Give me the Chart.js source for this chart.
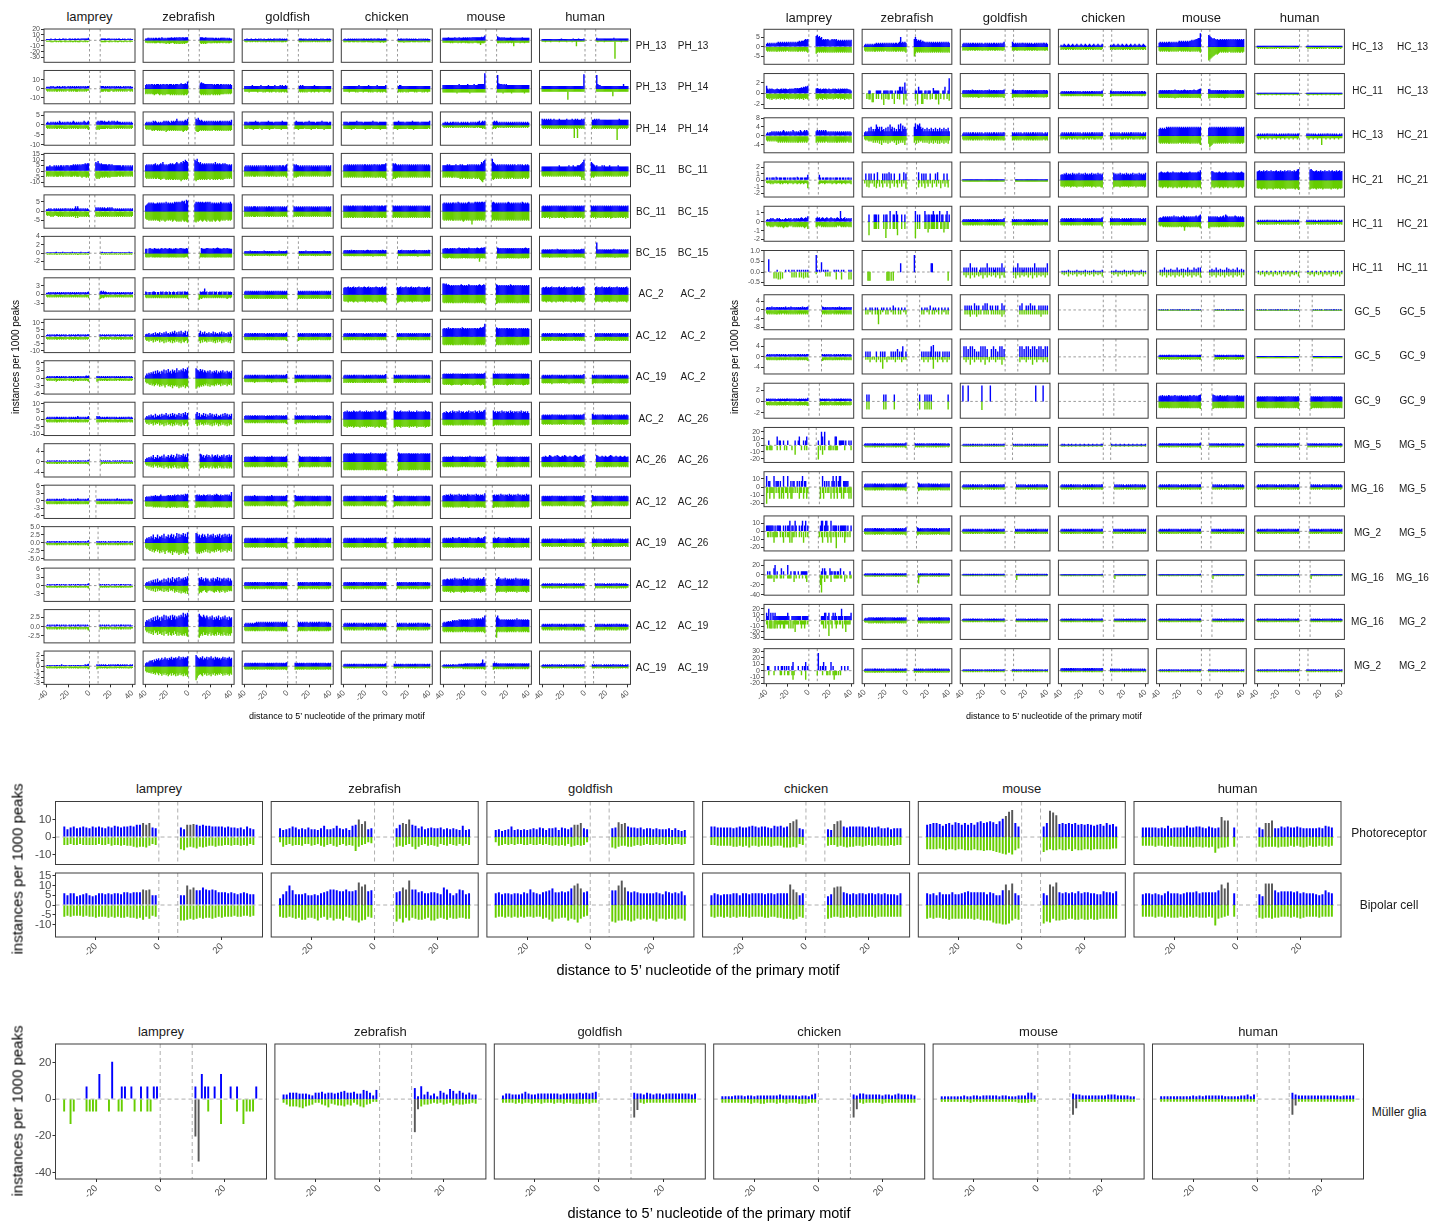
<!DOCTYPE html>
<html lang="en">
<head>
<meta charset="utf-8">
<title>Secondary motif instances around primary motifs</title>
<script src="https://cdn.jsdelivr.net/npm/chart.js@4.4.1/dist/chart.umd.min.js"></script>
<style>
  html, body { margin: 0; padding: 0; background: #ffffff; }
  body { position: relative; width: 1447px; height: 1223px; overflow: hidden;
         font-family: "Liberation Sans", Arial, Helvetica, sans-serif; }
  canvas { position: absolute; }
  .t { position: absolute; white-space: nowrap; color: #1a1a1a; line-height: 1;
       transform: translate(-50%, -50%); }
  .rot { transform: translate(-50%, -50%) rotate(-90deg); }
</style>
</head>
<body>
<script>
// ================= data =================
const species = ["lamprey", "zebrafish", "goldfish", "chicken", "mouse", "human"];

// ---- left grid: photoreceptor / bipolar / amacrine cluster pairs ----
const tlRowsA = ["PH_13","PH_13","PH_14","BC_11","BC_11","BC_15","AC_2","AC_12","AC_19","AC_2","AC_26","AC_12","AC_19","AC_12","AC_12","AC_19"];
const tlRowsB = ["PH_13","PH_14","PH_14","BC_11","BC_15","BC_15","AC_2","AC_2","AC_2","AC_26","AC_26","AC_26","AC_26","AC_12","AC_19","AC_19"];
const tlMotifEnd = [10,10,6,5,5,10,9,9,8,8,10,6,8,9,9,8];
const tlYRange = [[-38.8,20],[-16.7,20.4],[-10.3,6.6],[-14.2,16],[-9.1,8.75],[-3.95,4.05],[-5.8,5.8],[-11.4,12.4],
                  [-6.1,6.7],[-10.7,11.1],[-5.9,7.0],[-7,6.3],[-5.4,5.05],[-5.7,6.3],[-4.5,4.7],[-3.3,2.76]];
const tlYTicks = [["20","10","0","-10","-20","-30"],["10","0","-10"],["5","0","-5","-10"],["15","10","5","0","-5","-10"],
                  ["5","0","-5"],["4","2","0","-2"],["3","0","-3"],["10","5","0","-5","-10"],["6","3","0","-3","-6"],
                  ["10","5","0","-5","-10"],["4","0","-4"],["6","3","0","-3","-6"],["5.0","2.5","0.0","-2.5","-5.0"],
                  ["6","3","0","-3"],["2.5","0.0","-2.5"],["2","1","0","-1","-2","-3"]];
// bar heights per position, one base-36 digit per position (upstream | downstream), scaled by the row unit
const tlUnit = [1,1,0.5,1,0.5,0.1,0.25,0.5,0.25,0.5,0.25,0.25,0.25,0.25,0.25,0.1];
const tlPos = [
 ["2222322232 2232233232 2332323323 3233333334|3333323332 3232323322 3232232322",
  "3344343434 4344354343 4444544545 4554554555|5554454444 4443443434 4444343433",
  "2232223222 3223232232 2232322332 3233232323|3332323223 2322323222 3232223232",
  "2322323232 3232323233 2323233233 2333232333|3233232332 3232323223 2323232322",
  "4444454444 4544454445 4545454555 5555556568|7554545444 4454444444 4445444444",
  "2222222222 2222222232 2222222223 2222322223|4333333333 3333334333 3333333333"],
 ["2222323222 3232232322 3232323232 3232323233|3332323232 3232323232 2323232322",
  "4545455454 5554545545 5455545455 5456555658|6766555555 5545455545 5454545454",
  "3333333433 3333343333 3343333343 3334343343|3434333333 3333433333 3333333333",
  "3333333333 3333433333 3334333333 3433333334|3443333333 3333333333 3333333333",
  "4444444444 4444454444 4445444445 444555555h|f655545454 4444444444 4444444444",
  "3333333333 3333333333 3333333333 333333333g|f544333333 3333333333 3333353333"],
 ["2322323232 3243232323 3232343232 3232343234|3434443433 3433434334 3332323232 3232",
  "2323232434 3232323434 3432434346 4343434546|6575454343 4343434343 4344343434 3435",
  "3332333333 4333233333 3343333233 3333343333|3433333323 3334333332 3333343333 3233",
  "3333233333 3343333323 3333333433 3323333333|3333433333 2333333433 3333233333 3334",
  "2232322323 3232322323 2323223232 3233423434|3434323232 3232323232 3232323232 3232",
  "6565656565 5655556555 5556555565 5656555656|5565656555 5555555555 5555565555 5555"],
 ["4445444545 4545545455 5455565656 5656667677|8797676666 6566565555 5555455454 54545",
  "5656565667 5656768656 5667676678 7678798a98|a9b8786767 6767676768 6767667676 65656",
  "4545454545 4545454545 5454545454 5455455456|6565545454 5454545454 5454545454 54545",
  "5656565656 5656565656 6565656566 5656566667|7676565656 5656565656 5656565656 56565",
  "5555656555 5565556565 5556565656 565656879a|b876565656 5656565656 5655656565 56565",
  "4444444444 4444445444 4444454445 444555678a|8765454444 5454444544 4444454444 44444"],
 ["2232322323 2323232332 3232323535 3232323232|4343434343 3434343232 3232323232 32323",
  "6789898988 898989898a 8989898a9a 9a9abab8cb|8a9a9a9a99 a9a9a89898 9898a98989 898a8",
  "5454545455 5454545454 5455454545 4545454545|5454545454 5454545454 5454545454 54545",
  "6565656566 5656565656 6565656566 5656566566|6565656565 6565656565 6565656565 65656",
  "8989898989 9898a98989 8989a98989 a9a9a9aa9a|9a98989898 98989a9898 98989898a9 89898",
  "5656565656 5656565656 5656565656 5656565656|6565656565 6565656565 6565656565 65656"],
 ["1211212123 1212131212 2121312121 2131212123|2312121212 3121212121 2121213121",
  "aa0bcaa9cb aab9bcaacb aacbb9bacb aaccbbaacb|0cbaabccbb bacbbcdcbb abcbbcbbaa",
  "4545464545 5454545465 4545455454 5464545456|5454546454 5455454545 4546545454",
  "6767676867 7676767676 6787676767 7676768767|7678676767 6767786767 7676767687",
  "abcbcabcbc bcabcdcbcb cbcbdcbcbc bcdcbcdcde|dcbcbcbcbc bcbcbcbcbc bcbcbcdcbc",
  "8989898989 9898a98989 8989898989 9898989a9a|p989898989 898989a989 8989898989"],
 ["2232323232 3232323232 3232323232 3232323234|4535343232 3232323232 3232323232 3",
  "4303303443 0330434034 3043034303 4043404434|0434483403 4340434034 3404340434 3",
  "4545454545 4545454545 4545454545 4545454545|5454545454 5454545454 5454545454 5",
  "9a9ab9a9ab 9a9ab9a9ab a9ab9a9a9a ba9a9ab9ab|a9ab9a9ab9 a9ab9a9a9a ba9a9a9ab9 a",
  "ffefdedcdc dcdcdcdedc dcdcedcdcd cdcdedcded|edcdcdcdcd cdcedcdcdc dcdcdcdcdc d",
  "9a9ab9a9ab 9a9a9ab9a9 ab9a9a9ab9 a9ab9a9abb|ab9a9ab9a9 a9ab9a9a9a b9a9a9a9ab 9"],
 ["2323232323 3232323232 2323232323 3232323233|3232323232 3232323232 3232323232 3",
  "3435243526 3546253647 4536475846 3748365827|5836473546 3547364536 4736453647 4",
  "4545454545 5454545454 4545454545 5454545456|5454545454 5454545454 5454545454 5",
  "4545454545 5454545454 4545454545 5454545455|5454545454 5454545454 5454545454 5",
  "bcbcbdbcbc cbcbcbcbdc bcbcbcbcbc cbcbcdcdei|dcbcbcbcbc cbcbcbcbcb bcbcbcbcbc b",
  "4545454545 5454545454 4545454545 5454545455|5454545454 5454545454 5454545454 5"],
 ["2323232323 3232323232 2323232323 3232323434|3232323232 3232323232 3232323232 3232",
  "4758697a6b 7c8a6b9d7c 8e9b7dac8f 9cadbfaecg|fdcaebd9ca 8b9c7a8b9c 7a8b9c8a7b 9a8b",
  "4545454545 5454545454 4545454545 5454545456|5454545454 5454545454 5454545454 5454",
  "4545454545 5454545454 4545454545 5454545456|5454545454 5454545454 5454545454 5454",
  "6767676767 7676767676 6767676767 7676767678|7676767676 7676767676 7676767676 7676",
  "4545454545 5454545454 4545454545 5454545456|5454545454 5454545454 5454545454 5454"],
 ["2323232323 3232323232 2323232324 3232323234|4343232323 3232323232 2323232323 3232",
  "2435364527 3546374658 4637485736 5847386958|7948365847 3648573647 3546374857 3647",
  "4545454545 5454545454 4545454545 5454545455|5454545454 5454545454 4545454545 5454",
  "9a9b9a9a9b a9a9ab9a9a 9b9a9a9a9b a9ab9a9abb|ba9a9ab9a9 a9a9b9a9a9 9b9a9a9a9b a9a9",
  "898a989a8b 9a8a9b8a9a 89a9b8a9a8 b9a8b9a9bc|b9a8a9a8b9 a8a9a8b9a8 a9a8a9b8a9 a8a8",
  "5656565656 6565656565 5656565656 6565656567|7656565656 6565656565 5656565656 6565"],
 ["1212121212 2121212121 1212121212 2121212123|2121212121 1212121212 2121212121",
  "4657586a47 6a58796b58 7a69b7a58c 6b7a9c8b7d|cb8a69b7a8 6b79a8b697 a8b69a7b8a",
  "7878787879 8787878787 7878798787 8787878789|9878787878 8787878787 7878787878",
  "cdcdcdcdce dcdcdcdcdc cdcdcecdcd dcdcdcdcde|edcdcdcdcd dcdcdcdcdc cdcdcdcdcd",
  "7878787879 8787878787 7878798787 8787878789|9878787878 8787878787 7878787878",
  "7879878a98 7898a98789 8a98789878 9a987898ab|a987898798 789a987898 7898789878"],
 ["2323232323 3232324232 2323232324 3232323234|3232323232 3232323234 2323232323 3232",
  "6767687879 7878a87878 8989798a89 a98a9a8bab|9a8a898a98 9a8a898a9b a98a898a9a 8a8e",
  "7878787879 8787878787 7878798787 8787878789|9878787878 8787878787 7878787878 8787",
  "7878787878 8787878787 7878787878 8787878789|9878787878 8787878787 7878787878 8787",
  "898a9a8b9a 8a9a8b9a8a 9a8b9a8a9a 8b9a8a9a8c|9a8a9a8b9a 8a9a8b9a8a 9a8b9a8a9a 8b9a",
  "7878787878 8787878787 7878787878 8787878789|9878787878 8787878787 7878787878 8787"],
 ["1212121212 2121212121 1212121212 2121212123|2121212121 1212121212 2121212121 1212",
  "4657586a47 6a58796b58 7a69b7a58c 6b7a9c8b7d|cb8a69b7a8 6b79a8b697 a8b69a7b8a 7b8a",
  "5656565656 6565656565 5656565656 6565656567|6565656565 5656565656 6565656565 5656",
  "5656565656 6565656565 5656565656 6565656567|6565656565 5656565656 6565656565 5656",
  "5656565657 6565675656 5656576565 6567656578|6565675656 5656576565 6565656565 5656",
  "4545454545 5454545454 4545454545 5454545455|5454545454 4545454545 5454545454 4545"],
 ["1212121212 2121212121 1212121212 2121212123|2121212121 1212121212 2121212121 1",
  "3546375849 4a57684a59 6b4a7c5a8b 6c7a9b8cad|b9c8a6b9a7 5a8b6a9c7b 6a9b7a8b6a 7",
  "4545454545 5454545454 4545454545 5454545455|5454545454 4545454545 5454545454 4",
  "4545454545 5454545454 4545454545 5454545455|5454545454 4545454545 5454545454 4",
  "8989a98a9a 8b9a8a9a8c 9a8a9b8a9a 8a9b8a9ac9|9ac9a8a9b8 a9a8a9a8b9 a8a9a8a9a8 9",
  "2323232323 3232323232 2323232323 3232323233|3232323232 2323232323 3232323232 2"],
 ["1212121212 2121212121 1212121212 2121212121|2121212121 1212121212 2121212121 1",
  "5768597a6b 7c8a6b9d7c 8b9c7dac8b 9cadbfaecf|ecbadb9ca8 b9c7a8b9c7 a8b9c8a7b9 a",
  "3434343434 4545454545 4545454545 4545454545|5454545454 4545454545 5454545454 4",
  "3434343434 4343434343 3434343434 4343434344|4343434343 3434343434 4343434343 3",
  "4545565657 6767687878 7878787979 8989898a9c|ac98787878 7878787879 7878787878 7",
  "2323232323 3232323232 2323232323 3232323233|3232323232 2323232323 3232323232 2"],
 ["1212121212 2121312121 1212121212 2121213234|3232323232 2323232323 3232323232 2323",
  "5768a9b7c9 dbeacfbdgc ebfdhcfegd ficgdhegfi|khfdgeicfd hcgeidfche gdfcehdgcf ehdf",
  "5656565656 6565656565 5656565656 6565656567|6565656565 5656565656 6565656565 5656",
  "3434343434 4343434343 3434343434 4343434345|4343434343 3434343434 4343434343 3434",
  "2323232323 3232343434 4545454545 4545456c56|5656454545 4545454545 4545454545 4545",
  "2323232323 3232323232 2323232323 3232323233|3232323232 2323232323 3232323232 2323"]
];
const tlNeg = [
 ["2222333223 2323322332 3232332323 3322323232|3333322332 3223233223 2322322322",
  "4454545455 5445545556 5565545656 5665656554|5656565545 5545455454 4544545544",
  "2332232322 3232232323 3223232332 3232333232|3332323232 3232232323 2323223232",
  "3332333233 3233323333 3233333433 3333433433|3333343333 3323333233 3332332333",
  "4444444545 4444544544 4545554554 4455585554|5545454544 54454a4444 4544454444",
  "2223222232 2222223222 2223222232 22a2222222|2322222322 2222222w22 2223222222"],
 ["2323232323 3232323232 2323232333 2323232322|3332323332 2332323232 3232322323",
  "6565656676 6567667676 6667676767 6767677676|6767676767 6676767676 6665656565",
  "3333433333 3343333434 3334343334 3343433434|3434343433 3433433343 3334333343",
  "3333343333 3434333343 3334343433 3433434334|4343433434 3333343433 3343433433",
  "4444444444 4445444444 4444454444 4444444444|4444454444 4445444444 4444454444",
  "3333333333 3333333333 3333c33333 3333333333|3333333333 3333383333 3333333333"],
 ["3434343434 4343434444 3434343434 4343434345|5454444443 4344434343 4343434343 4343",
  "4545456565 5656565657 6565656565 6565676565|6776565656 5656565565 6565656565 6565",
  "4443444454 4444345444 4445444434 4444544444|4445444443 4444454444 3444444544 4444",
  "4444444544 4344444444 5444443444 4444544444|4445444444 4434444454 4444444444 4434",
  "2323232323 3232323232 3232323233 3232333434|4343232323 3232323232 3232323232 3232",
  "3434343434 3434343434 3434343434 d34d343434|4343434343 4343434343 434f434343 4343"],
 ["5454545545 5545455454 5455545455 5456555656|6767656565 5656555555 5455455454 54545",
  "6767676767 7677877678 7878788787 8789878787|8988787878 7877877878 7877878776 76767",
  "5454545455 5454545454 5455454545 5454545456|6565545454 5454545454 5454545455 45454",
  "6565656565 6565656566 5656565656 6565656667|7676656565 6565656565 6565656565 65656",
  "6565656566 5656667676 6767676766 7676789a87|7876767676 6767676766 7676767676 67676",
  "4545454545 4545454545 4545454545 4545455868|6565454545 4545454545 4545454545 45454"],
 ["4545656545 5656565656 5656565757 5656565656|5656565656 5656565656 5656565656 56565",
  "899a9a9a9a 9aab9a9aba 9a9a9ba9ab abab9ababc|bcaba9aba9 ab9abab9ab a9aba9a9a9 9a9a9",
  "6565656566 6565656565 6566565656 5656565656|6565656565 6565656565 6565656565 65656",
  "7676767677 6767676767 7676767677 6767677677|7676767676 7676767676 7676767676 76767",
  "9a9a9a9a9a a9a9a9a9ab a9a9a9aea9 a9a9a9a9a9|a9a9a9a9a9 a9a9a9a9a9 a9a9a9a9a9 a9a9a",
  "7677676867 7677677676 7867767677 6767767687|7676867677 6767767687 7677676767 76867"],
 ["2323232323 3232323233 2323232324 3232323233|3232323232 3232323232 3232323232",
  "9a9a98a9aa 9a9aa99a9a 9aa9a9a9aa 9a9a9aa98a|a9a9aa9a9a 9a9aaa9a9a a9a9a9a9aa",
  "5656565756 6565656565 5657565656 6565656575|6565656565 5656575656 6565656565",
  "6767676767 7676767677 6767676876 7676767677|7676767676 6767676787 6767676767",
  "abcbcbabcb cbcbcbcbcb bcbcbcbcbc cbcbkcbcbc|cbcbcbcbcb bcbcbcbcbc cbcbcbcbcb",
  "9a9a9a9b9a a9a9a9a9a9 9a9b9a9a9a a9a9a9a9ab|a9a9a9a9a9 9a9a9a9b9a a9a9a9a9a9"],
 ["3434343434 3434343434 3434343434 3434343435|6545434343 4343434343 4343434343 4",
  "4545454545 4545454545 4545454545 4545454546|7565454545 4545454545 4545456545 4",
  "5656565656 5656565656 5656565656 5656565656|6565656565 6565656565 6565656565 6",
  "9a9ab9a9ab a9ab9a9a9a b9a9a9ab9a ab9a9a9abc|cba9a9ab9a 9a9ab9a9a9 a9ab9a9a9a 9",
  "bcbcbcbcbc cbcbcbcbcb bcbcbcbcbc cbcbcbcbcd|dcbcbcbcbc bcbcbcbcbc cbcbcbcbcb c",
  "9a9ab9a9ab a9ab9a9a9a b9a9a9ab9a ab9a9a9aba|ba9a9ab9a9 a9ab9a9a9a b9a9a9a9ab 9"],
 ["3434343434 4343434343 3434343434 4343434343|4343434343 3434343434 4343434343 4",
  "4657465847 5648576958 4768596847 5869478659|6958476857 4758695847 5968475869 5",
  "4545454545 5454545454 4545454545 5454545456|6545454545 5454545454 4545454545 4",
  "5454545454 4545454545 5454545454 4545454545|5454545454 4545454545 5454545454 5",
  "bcbcbcbcbc cbcbcbcbcb bcbcbcbcbc cbcbcbcbcb|cbcbcbcbcb bcbcbcbcbc cbcbcbcbcb b",
  "6565656565 5656565656 6565656565 5656565656|6565656565 5656565656 6565656565 6"],
 ["3434343435 4343434343 3434353434 4343434345|5434343434 4343434343 3434343434 4343",
  "6879a8b9ca 8b9dac9bea 9cbdafbcad bfcebdafcd|gdcebdac9b 8c9dabac9b 8a9c8b9a8c 9a8b",
  "5656565657 6565656565 5656575656 6565656567|7656565656 6565656565 5656565656 6565",
  "7676767677 6767676767 7676767677 6767676767|7676767676 6767676767 7676767676 6767",
  "9a9a9a9aba a9a9a9aba9 9a9a9a9aba a9a9aba9ag|ba9a9a9a9a a9aba9a9a9 9a9a9a9aba a9a9",
  "7878787879 8787878787 7878798787 8787878789|9878787878 8787878787 7878787878 8787"],
 ["3434343434 4343434343 3434343434 4343434343|4343434343 3434343434 4343434343 3434",
  "4657465847 5648576958 4768596847 5869478659|6958476857 4758695847 5968475869 5867",
  "4545454545 5454545454 4545454545 5454545456|6545454545 5454545454 4545454545 5454",
  "9a9b9a9a9b a9a9ab9a9a 9b9a9a9a9b a9ab9a9abb|ba9a9ab9a9 a9a9b9a9a9 9b9a9a9a9b a9a9",
  "7878787878 8787878788 7878787878 8787878789|9878787878 8787878787 7878787878 8787",
  "6767676767 7676767676 6767676767 7676767678|7676767676 7676767676 6767676767 7676"],
 ["2323232323 3232323232 2323232323 3232323234|4323232323 3232323232 2323232323",
  "4657586947 6958796a58 7a69a7958a 6a79a8a79b|a98a6997a8 6a79a8a697 a8a69a7a8a",
  "7878787878 8787878787 7878787878 8787878789|9878787878 8787878787 7878787878",
  "cdcdcdcdcd dcdcdcdcdc cdcdcdcdcd dcdcdcdcde|edcdcdcdcd dcdcdcdcdc cdcdcdcdcd",
  "7878787878 8787878787 7878787878 8787878789|9878787878 8787878787 7878787878",
  "7878787878 8787878787 7878787878 8787878789|9878787878 8787878787 7878787878"],
 ["4545454545 5454545454 4545454545 5454545455|5454545454 5454545454 4545454545 5454",
  "8989898a9a 9a9a9a9a9b a9ab9a9a9b 9a9a9a9bab|ba9a9a9a9a 9a9ab9a9a9 a9a9a9a9ab 9a9a",
  "7878787878 8787878787 7878787878 8787878789|9878787878 8787878787 7878787878 8787",
  "7878787878 8787878787 7878787878 8787878789|9878787878 8787878787 7878787878 8787",
  "9a9a9a9a9a a9a9a9a9a9 9a9aba9a9a a9a9a9a9ab|ba9a9a9a9a a9a9a9a9a9 9a9a9a9a9a a9a9",
  "7878787878 8787878787 7878787878 8787878789|9878787878 8787878787 7878787878 8787"],
 ["2323232323 3232323232 2323232323 3232323234|3232323232 2323232323 3232323232 2323",
  "6879a8b9ca 8b9dac9bea 9cbdafbcad bfcebdafcd|bdcebdac9b 8c9dabac9b 8a9c8b9a8c 9a8b",
  "5656565656 6565656565 5656565656 6565656567|6565656565 5656565656 6565656565 5656",
  "5656565656 6565656565 5656565656 6565656567|6565656565 5656565656 6565656565 5656",
  "5656565656 6565656565 5656565656 6565656567|6565656565 5656565656 6565656565 5656",
  "4545454545 5454545454 4545454545 5454545455|5454545454 4545454545 5454545454 4545"],
 ["2323232323 3232323232 2323232323 3232323234|3232323232 2323232323 3232323232 2",
  "3546475849 4857684958 6947685a79 6a7b8a9b8c|b9a8769a87 6879a8968a 7968a79687 8",
  "4545454545 5454545454 4545454545 5454545455|5454545454 4545454545 5454545454 4",
  "4545454545 5454545454 4545454545 5454545455|5454545454 4545454545 5454545454 4",
  "8989898a89 a989898a89 a98989898a 89898a8989|a98989898a 898989898a 89898989a8 9",
  "3434343434 4343434343 3434343434 4343434344|4343434343 3434343434 4343434343 3"],
 ["2323232323 3232323232 2323232323 3232323234|3232323232 2323232323 3232323232 2",
  "4657586947 6958796a58 7a69a7958a 6a79a8a7ab|ca8a6997a8 6a79a8a697 a8a69a7a8a 7",
  "4545454545 5454545454 4545454545 5454545455|5454545454 4545454545 5454545454 4",
  "3434343434 4343434343 3434343434 4343434344|4343434343 3434343434 4343434343 3",
  "5656565656 6565656565 5656565656 6565656567|c656565656 6565656565 5656565656 6",
  "3434343434 4343434343 3434343434 4343434344|4343434343 3434343434 4343434343 3"],
 ["3434343434 4343434343 3434343434 4343434345|5434343434 4343434343 3434343434 4343",
  "9bacbdaecf bdgcehdfcg eifdhcgeid hfcgeidhfj|pkhfegicfd hcgeidfche gdfcehdgcf ehdf",
  "5656565656 6565656565 5656565656 6565656567|6565656565 5656565656 6565656565 5656",
  "3434343434 4343434343 3434343434 4343434344|4343434343 3434343434 4343434343 3434",
  "3434343434 4343434345 4545454545 5454545456|6545454545 5454545454 4545454545 5454",
  "3434343434 4343434343 3434343434 4343434344|4343434343 3434343434 4343434343 3434"]
];

// ---- right grid: horizontal / ganglion / Mueller cluster pairs ----
const trRowsA = ["HC_13","HC_11","HC_13","HC_21","HC_11","HC_11","GC_5","GC_5","GC_9","MG_5","MG_16","MG_2","MG_16","MG_16","MG_2"];
const trRowsB = ["HC_13","HC_13","HC_21","HC_21","HC_21","HC_11","GC_5","GC_9","GC_9","MG_5","MG_5","MG_5","MG_16","MG_2","MG_2"];
const trMotifEnd = [8,8,8,9,8,8,12,12,10,7,10,9,10,10,8];
const trYRange = [[-9.1,9.1],[-2.8,3.7],[-7.6,8.1],[-2.6,2.8],[-2.2,1.76],[-0.64,1.02],[-9.1,7],[-6.6,6.9],
                  [-3.0,3.25],[-25.7,26.8],[-23.9,18.6],[-24.5,19.25],[-41,30],[-33.3,27.7],[-20.2,34.2]];
const trYTicks = [["5","0","-5"],["2","0","-2"],["8","4","0","-4"],["2","1","0","-1","-2"],["1","0","-1","-2"],
                  ["1.0","0.5","0.0","-0.5"],["4","0","-4","-8"],["4","0","-4"],["2","0","-2"],
                  ["20","10","0","-10","-20"],["10","0","-10","-20"],["10","0","-10","-20"],["20","0","-20","-40"],
                  ["20","10","0","-10","-20","-30"],["30","20","10","0","-10","-20"]];
const trUnit = [0.5,0.1,0.5,0.1,0.1,0.05,0.25,0.25,0.1,1,1,1,1,1,1];
const trPos = [
 ["3434343434 4545454545 4545454545 5656667878|bcab9a7878 7876787878 6767676767 6767",
  "2323232323 3434343434 3434343434 4345a45454|8a86767565 5454545454 5454545454 5454",
  "3434343434 4343434343 3434343434 4343434345|5434343434 4343434343 3434343434 4343",
  "2123212321 2321232123 2123212321 2321232123|2123212321 2321232123 2123212321 2321",
  "4545454545 5454545456 5656565656 676778899e|cba9898787 7878787878 7878787878 7878",
  "1111111111 1111111111 1111111111 1111111111|1111111111 1111111111 1111111111 1111"],
 ["e979898778 9878979898 7898989a9a 9aabacbdce|9a98978989 8798789898 7979898989 8775",
  "0000550000 0555550055 5550555005 055cc5c0k5|0550c55500 55055500a5 555500055c 005s",
  "5656565657 6565656565 5656575656 6565656567|7656565656 6565656565 5656565656 6565",
  "3434343434 4343434343 3434343434 4343434345|5434343434 4343434343 3434343434 4343",
  "5656565656 6565676565 5656765656 6567656789|8765656565 6565656565 5656565656 6565",
  "1111111111 1111111111 1111111111 1111111111|1111111111 1111111111 1111111111 1111"],
 ["2323343434 3434345434 3434354343 4354345454|4545454545 4343434343 4343434343 4343",
  "3434748464 6a86848564 7484a68474 64a6b49686|8b6a9b8674 6474647464 7464746474 6474",
  "2323232323 3232323232 2323232323 3232323233|3232323232 2323232323 3232323232 2323",
  "2323232323 3232323232 2323232323 3232323233|3232323232 2323232323 3232323232 2323",
  "6767676878 7878787878 7878787878 7878787878|7878787878 7878787878 7878787878 7878",
  "1212121212 2121212121 1212121212 2121212122|2121212121 1212121212 2121212121 1212"],
 ["4404044405 4044404440 4044044405 4044404448|8404404440 4404044404 4044040440 4",
  "0a00a0a00a 00c0000a0a 0a0c0a00a0 000a000c0a|0c00a0a0a0 00a0000a0c 00000a00a0 0",
  "1111111111 1111111111 1111111111 1111111111|1111111111 1111111111 1111111111 1",
  "898a9b8a9a 8b9a8a9b8a 9a8b9a8a9b 8a9a8b9a8a|b9a8a9b8a9 a8b9a8a9b8 a9a8b9a8a9 b",
  "bcdcbcbcdc bcbdcbcbcb cdcbcbcbcd cbcbcbcdcf|edcbcbcdcb cbcdcbcbcb dcbcbcbcdc b",
  "defdedfdef dedfdedefd edfdedfdef dfdedfdegh|ghfedefded fdedfdedfd efdedfdefd e"],
 ["2323434323 4343232343 3434234343 4345434546|4545345434 5434543434 543c434534 3434",
  "0000800008 8808000080 8800c00880 c800080080|0c08080000 c8088088c8 0880c08800 8c08",
  "2323232323 3232323232 2323232323 3232323234|3232323232 2323232323 3232323232 2323",
  "3434343434 4343434343 3434343434 4343434345|4343434343 3434343434 4343434343 3434",
  "4545656565 6565756565 5657656565 6565675678|6565656565 5656758765 6565676565 6565",
  "1212121212 2121212121 1212121212 2121212122|2121212121 1212121212 2121212121 1212"],
 ["00c0000000 2000000020 0200202002 0202020202|g202090202 0200000202 0200202000 0202",
  "0000000000 0000000000 0000000000 0000800000|g000000000 0000008800 0000000000 0000",
  "0404040804 0404002404 0408040404 2404040804|0404080404 2404040404 0804040404 0408",
  "0101010201 0101020101 0102010101 0201010102|0101020101 0102010101 0201010102 0101",
  "0202040202 0302020402 0303020402 0204030404|0203020402 0302020403 0203020402 0302",
  "0100010001 0001000100 0100010001 0001000100|0100010001 0001000100 0100010001 0001"],
 ["4545464545 5454545464 4546545454 5454645456|6545454545 5454546454 45454545",
  "0400040400 4040004040 0400400804 0040040040|0400404008 0040400400 40040040",
  "0080808080 0c08080008 0c0c008080 0808000c08|080c000808 0c08080008 08080808",
  "",
  "1010101010 0101010101 1010101010 0101010101|1010101010 0101010101 10101010",
  "1010101010 0101010101 1010101010 0101010101|1010101010 0101010101 10101010"],
 ["3434343434 4343434343 3434343434 4343434344|4343434343 3434343434 43434343",
  "0808080000 0800080808 0000080808 0c0808g008|0808080808 g0i0808080 08080808",
  "0g0g0c0g0g 0c08080g0g 0g0c000c0g 0c080g0g0c|0g0g0c0g0g 0c0g0g0c0g 0g0c0g0g",
  "",
  "2323232323 3232323232 2323232323 3232323233|3232323232 2323232323 32323232",
  "1111111111 1111111111 1111111111 1111111111|1111111111 1111111111 11111111"],
 ["5454545454 4545454545 5454545454 4545454546|5454545454 4545454545 5454545454",
  "00c0c00000 00000000c0 c0000000c0 0000000000|0c0000c0c0 c0c0000000 00000000c0",
  "s0000s0000 00000000s0 000000s000 0000000000|0000000000 00000000s0 00000s0000",
  "",
  "9a9b9a9a9b a9a9ab9a9a 9b9a9a9a9b a9ab9a9abc|cba9a9ab9a 9a9ab9a9a9 a9ab9a9a9a",
  "8989898989 9898989898 8989898989 9898989899|9898989898 8989898989 9898989898"],
 ["0070000000 d077007000 7000000700 7d000707d0|0700kd0k00 0700000dd0 0777770700 707",
  "2323232323 3232323232 2323232323 3232323234|3232323232 2323232323 3232323232 232",
  "1212121212 2121212121 1212121212 2121212122|2121212121 1212121212 2121212121 212",
  "1212111211 2111211121 1121112111 2111211122|2111211121 1121112111 2111211121 112",
  "2323232323 3232323232 2323232323 3232323234|3232323232 2323232323 3232323232 232",
  "2323232323 3232323232 2323232323 3232323233|3232323232 2323232323 3232323232 232"],
 ["d077000d07 770700d000 d007077007 0707d07700|00d0707070 07d70d07dd 0077777000",
  "3434343434 4343434343 3434343434 4343434345|5434343434 4343434343 3434343434",
  "2323232323 3232323232 2323232323 3232323233|3232323232 2323232323 3232323232",
  "2323232323 3232323232 2323232323 3232323233|3232323232 2323232323 3232323232",
  "2323232323 3232323232 2323232323 3232323233|3232323232 2323232323 3232323232",
  "2323232323 3232323232 2323232323 3232323233|3232323232 2323232323 3232323232"],
 ["7777777070 7777007070 77d0770d70 0707d07d07|07dd07dd70 0d07777070 7777770700 7",
  "3434343434 4343434343 3434343434 4343434345|5434343434 4343434343 3434343434 4",
  "2323232323 3232323232 2323232323 3232323233|3232323232 2323232323 3232323232 3",
  "2323232323 3232323232 2323232323 3232323233|3232323232 2323232323 3232323232 3",
  "2323232323 3232323232 2323232323 3232323233|3232323232 2323232323 3232323232 3",
  "2323232323 3232323232 2323232323 3232323233|3232323232 2323232323 3232323232 3"],
 ["0707000dk0 7000d07000 k007007700 7007777770|07d0d7000d 770770770d 0070000070",
  "2323232323 3232323232 2323232323 3232323233|3232323232 2323232323 3232323232",
  "1212121212 2121212121 1212121212 2121212122|2121212121 1212121212 2121212121",
  "1111111111 1111111111 1111111111 1111111112|1111111111 1111111111 1111111111",
  "1111111111 1111111111 1111111111 1111111112|1111111111 1111111111 1111111111",
  "1111111111 1111111111 1111111111 1111111112|1111111111 1111111111 1111111111"],
 ["d7k0d0d7d7 7777777777 d700777777 7770777777|0777dd07d0 07d7d70777 k70777777d",
  "3434545454 4545454545 5454545454 4545454545|5454545454 4545454545 5454545454",
  "2323232323 3232323232 2323232323 3232323233|3232323232 2323232323 3232323232",
  "2323232323 3232323232 2323232323 3232323233|3232323232 2323232323 3232323232",
  "2323232323 3232323232 2323232323 3232323233|3232323232 2323232323 3232323232",
  "2323232323 3232323232 2323232323 3232323233|3232323232 2323232323 3232323232"],
 ["0770000070 0700770707 07007d0000 7000707d07|00r0707d07 0000d07000 0000700700 7000",
  "2323232323 3232323232 2323232323 3232323233|3232323232 2323232323 3232323232 3232",
  "1212121212 2121212121 1212121212 2121212122|2121212121 1212121212 2121212121 1212",
  "3434343434 4343434343 3434343434 4343434344|3232323232 2323232323 3232323232 3232",
  "1212121212 2121212121 1212121212 2121212122|2121212121 1212121212 2121212121 1212",
  "1212121212 2121212121 1212121212 2121212122|2121212121 1212121212 2121212121 1212"]
];
const trNeg = [
 ["4545454545 5454545454 4545454545 5454545456|7656565656 5656565656 5656565656 5656",
  "4545454545 5454545454 4545454545 5454545456|a756565656 5656565656 5656565656 5656",
  "4343443434 3443434344 3434434343 4434343443|4343443434 3443434344 3434434343 4434",
  "3232332323 2332323233 2323323232 3323232332|3232332323 2332323233 2323323232 3323",
  "4545454545 5454545454 4545454545 5454545456|edcba98787 6565656565 5656565656 6565",
  "1212121212 2121212121 1212121212 2121212121|1212121212 2121212121 1212121212 2121"],
 ["8a9b8c9a8b 9a8b9a9c8a 9b8a9a8b9a 8b9a9c8a9b|a9b8a9c8a9 b8a9a8b9a8 9a8b9a9c8a 9b8a",
  "00a0bb0gg0 0a0a00b0l0 a0bb00a0j0 0a0b000k0b|0a0k000jj0 a0b00b0a00 bb0k0a00b0 0a0d",
  "6767676767 7676787676 6767676767 7676767678|8767676767 7676767676 6767676767 7676",
  "4545454545 5454545454 4545454545 5454545456|6545454545 5454545454 4545454545 5454",
  "7878787878 8787898787 7878787878 8787878789|9878787878 8787898787 7878787878 8787",
  "2323222322 3222322232 2232223222 3222322232|2232223222 3222322232 2232223222 3222"],
 ["4545454545 5656565656 5656565656 6565656565|6565656565 5656565656 6565656565 5656",
  "3434545464 6464748464 6474645464 8474646484|6474645464 6464746474 6474746474 6474",
  "3434343434 4343434343 3434343434 4343434344|4343434343 3434343434 4343434343 3434",
  "3232333232 3323233232 3332323323 2333232332|3323233232 3332323323 2333232332 3323",
  "6767676767 7676767676 6767676767 7676767678|7a98767676 7676767676 6767676767 7676",
  "2323222322 3222322232 2232223222 3222322232|2232223222 3222822232 2232223222 3222"],
 ["4545646545 5456465454 6545465456 546546545c|6545465454 5465456545 4654564545 6",
  "50a0b5050a 0c50a05b05 0a05c050a0 5b050a050d|0b50a05c05 a050b050a0 50c050a05b 0",
  "2222222222 2222222222 2222222222 2222222222|2222222222 2222222222 2222222222 2",
  "9a9b9a9a9b a9a9ab9a9a 9b9a9a9a9b a9ab9a9abb|ba9a9ab9a9 a9a9b9a9a9 9b9a9a9a9b a",
  "abacbabacb abacbabcab acbabacbab acbabcabac|bacbabacba bcabacbaba cbabacbabc a",
  "cdcdedcdce dcdcdecdcd cdecdcdecd cdcdcdecdf|edcdcdecdc dcedcdcdcd ecdcdcedcd c"],
 ["4545656545 5656567656 6545465656 5656567658|6545465656 5656565656 4545656565 5656",
  "0000f00008 8808000080 i800800880 8f00080080|0i08080000 880c808888 08800880c8 0880",
  "3434343434 4343434343 3434343434 4343434345|4343434343 3434343434 4343434343 3434",
  "3434343434 4343434343 3434343434 4343434345|4343434343 3434343434 4343434343 3434",
  "4545656565 6565656565 5656a65656 6565656567|7656565656 6565656565 5656565656 6565",
  "2323232323 3232323232 2323232323 3232323233|3232323232 2323232323 3232323232 2323"],
 ["0000000606 0707060000 0000505050 0505060505|2000000004 0404000007 0000700000 0707",
  "0008880000 0000000000 0888080800 0000000000|0000000000 0000000000 0000000000 0080",
  "0305030603 0503040306 0305030403 0503060305|0306030503 0403050306 0305030403 0503",
  "0203020402 0302040203 0204020302 0402030204|0203020402 0302040203 0204020302 0402",
  "0304030503 0403050304 0305030403 0503040305|0304030503 0403050304 0305030403 0503",
  "0203020402 0302040203 0204020302 0402030204|0203020402 0302040203 0204020302 0402"],
 ["6868686878 8686866868 6868686868 6868686868|8686868686 6868686868 68686868",
  "0808040800 808q080400 8080040808 0080800408|0808004080 0808040800 80408080",
  "0080808c08 080c080800 8080800808 0808080c08|0808080808 0808080808 0c080808",
  "",
  "1111111111 1111111111 1111111111 1111111111|1111111111 1111111111 11111111",
  "1111111111 1111111111 1111111111 1111111111|1111111111 1111111111 11111111"],
 ["4545454545 5454545454 4545454545 5454545456|6545454545 5454545454 45454545",
  "0404080404 0804080i04 0804040408 0404080404|0408040804 04i0408040 48040804",
  "0408040c04 0804040804 0c04080404 0804040c04|0804040804 040c040804 04080408",
  "",
  "3434343434 4343434343 3434343434 4343434344|4343434343 3434343434 43434343",
  "2222222222 2222222222 2222222222 2222222222|2222222222 2222222222 22222222"],
 ["6767676767 7676767676 6767676767 7676767678|7676767676 6767676767 7676767676",
  "00e0e00000 00000000e0 e0000000e0 0000000000|0e0000e0e0 e0e0000000 00000000e0",
  "0000000000 00000000f0 0000000000 0000000000|0000000000 0000000000 0000000000",
  "",
  "bcbcbcbcbc cbcbcbcbcb bcbcbcbcbc cbcbcbcbcd|dcbcbcbcbc cbcbcbcbcb bcbcbcbcbc",
  "bcbcbcbcbc cbcbcbcbcb bcbcbcbcbc cbcbcbcbcd|dcbcbcbcbc cbcbcbcbcb bcbcbcbcbc"],
 ["7707770000 7007000707 0000700e00 0007007070|0l070e0700 0777070777 0000007000 007",
  "2323232323 3232323232 2323232323 3232323234|3232323232 2323232323 3232323232 232",
  "1212121212 2121212121 1212121212 2121212122|2121212121 1212121212 2121212121 212",
  "1212111211 2111211121 1121112111 2111211122|2111211121 1121112111 2111211121 112",
  "2323232323 3232323232 2323232323 3232323234|3232323232 2323232323 3232323232 232",
  "2323232323 3232323232 2323232323 3232323233|3232323232 2323232323 3232323232 232"],
 ["k70e777e07 07e0e7e077 e07ee70707 0e770e70e7|e07e070770 e07e07e077 e0e7707e7e",
  "3434343434 4343434343 3434343434 4343434345|5434343434 4343434343 3434343434",
  "2323232323 3232323232 2323232323 3232323233|3232323232 2323232323 3232323232",
  "2323232323 3232323232 2323232323 3232323233|3232323232 2323232323 3232323232",
  "2323232323 3232323232 2323232323 3232323233|3232323232 2323232323 3232323232",
  "2323232323 3232323232 2323232323 3232323233|3232323232 2323232323 3232323232"],
 ["0770707e77 700707e070 77e0e77070 07070e0707|707e0707e0 7e0707l070 7070e70707 0",
  "3434343434 4343434343 3434343434 4343434345|5434343434 4343434343 3434343434 4",
  "2323232323 3232323232 2323232323 3232323233|3232323232 2323232323 3232323232 3",
  "2323232323 3232323232 2323232323 3232323233|3232323232 2323232323 3232323232 3",
  "2323232323 3232323232 2323232323 3232323233|3232323232 2323232323 3232323232 3",
  "2323232323 3232323232 2323232323 3232323233|3232323232 2323232323 3232323232 3"],
 ["0777770e07 7007707000 777700e070 07007007e0|kz70e07700 e007777707 700e070077",
  "2323232323 3232323232 2323232323 3232323233|h432323232 2323232323 3232323232",
  "1212121212 2121212121 1212121212 2121212122|a212121212 1212121212 2121212121",
  "1212121212 2121212121 1212121212 2121212122|8212121212 1212121212 2121212121",
  "1212121212 2121212121 1212121212 2121212122|8212121212 1212121212 2121212121",
  "1212121212 2121212121 1212121212 2121212122|8212121212 1212121212 2121212121"],
 ["7e0eee0ee7 e77e77ee77 7e0e0e7k77 707e77e707|077e0e07r0 7e007e7077 0e07k77770",
  "3434545454 4545454545 5454545454 4545454545|5454545454 4545454545 5454545454",
  "2323232323 3232323232 2323232323 3232323233|3232323232 2323232323 3232323232",
  "2323232323 3232323232 2323232323 3232323233|3232323232 2323232323 3232323232",
  "2323232323 3232323232 2323232323 3232323233|3232323232 2323232323 3232323232",
  "2323232323 3232323232 2323232323 3232323233|3232323232 2323232323 3232323232"],
 ["0070000700 0007700700 77007e7000 0007000e00|0700007000 7707007e77 0707000000 0000",
  "2323232323 3232323232 2323232323 3232323233|3232323232 2323232323 3232323232 3232",
  "1212121212 2121212121 1212121212 2121212122|2121212121 1212121212 2121212121 1212",
  "1212121212 2121212121 1212121212 2121212122|2121212121 1212121212 2121212121 1212",
  "1212121212 2121212121 1212121212 2121212122|2121212121 1212121212 2121212121 1212",
  "1212121212 2121212121 1212121212 2121212122|2121212121 1212121212 2121212121 1212"]
];

// ---- pooled cell classes (instances per 1000 peaks) ----
const midPositions = [-30,-29,-28,-27,-26,-25,-24,-23,-22,-21,-20,-19,-18,-17,-16,-15,-14,-13,-12,-11,
                      -10,-9,-8,-7,-6,-5,-4,-3,-2,-1,7,8,9,10,11,12,13,14,15,16,17,18,19,20,21,22,23,24,25,26,27,28,29,30];
const midRows = ["Photoreceptor", "Bipolar cell"];
const midOverlapPositions = [-5,-4,-3,9,10,11];
const photoreceptorPos = [
 [6,4.5,5.5,6,5,5.5,6,5.5,5,6, 5.5,6,5.5,5,6,5.5,6.5,6,5.5,6, 6,6.5,6,7,7,8,7,8,5.5,5, 5.5,4.5,7,7,7.5,7,6.5,7,6.5,6.5, 6,6,6,6,5.5,6,5.5,5.5,5,5.5, 4.5,6,5,4.5],
 [5,4,4.5,5,6,5.5,4.5,5,4.5,5.5, 4.5,4.5,4,5,6.5,4.5,4.5,5,6.5,5, 4.5,5,4,6.5,7,10,7.5,9,4.5,5, 5,7,8,7.5,10,7,6.5,5,6,4.5, 5,5.5,5,5,5.5,4.5,5,4.5,5,4.5, 4,6.5,4,4.5],
 [4,4.5,3.5,4,4.5,6,4,4.5,4,4.5, 4,4.5,5,4.5,5.5,5,4,5,5,5.5, 4,5.5,5,4.5,5.5,7,7,8,5,4.5, 5,5.5,8.5,7.5,8,6,5.5,5.5,5,5.5, 4.5,5,5,4.5,5,4.5,4.5,4.5,5,4, 5,4,3.5,4],
 [6,6,5.5,5.5,5.5,5.5,5.5,5,5.5,6, 5.5,5.5,6,6.5,6,5.5,6,6,5.5,5, 6.5,6,6.5,5.5,6,8,9,10,5,4.5, 4.5,4,7.5,9,9.5,6,5.5,6,6,6, 6,6,5.5,6,5.5,5.5,6,5,5,5.5, 4.5,5,5,5],
 [7,7.5,8,8,7.5,6.5,7.5,8,7,8.5, 8,7,8,7,8,7,8.5,9,8,8.5, 9,8.5,7.5,9,10.5,12,14.5,15.5,8,6, 6,8,15,14,12.5,7.5,8,7.5,8,7.5, 8,7,7.5,7,7.5,7,6.5,7,7.5,6.5, 8,7,7.5,6],
 [5.5,5.5,5.5,5.5,5.5,5,5.5,5,6.5,5, 5.5,5.5,5.5,5.5,6.5,5.5,5.5,6,6,5.5, 5,6,5.5,5,5.5,11.5,9.5,9.5,0,5.5, 5.5,4.5,8,8,9.5,5,5,6,5.5,6, 5.5,5.5,6,5.5,5,5,5,5,5,5.5, 5,6.5,6,5.5]
];
const photoreceptorNeg = [
 [4.5,4.5,4,4.5,4.5,4,4.5,4.5,4.5,4.5, 4.5,4,4.5,4.5,4,5,4.5,4.5,5,4.5, 5,5,5.5,6,5.5,5.5,6,5,4,4.5, 7,7.5,6,5.5,6,6.5,5.5,6,5.5,5, 5,5.5,5,5,4.5,4.5,5,4.5,4.5,5, 4.5,5,4,4.5],
 [3,5.5,4.5,4,5,4.5,4.5,5,4,4, 5,4.5,4,5,5.5,4.5,4,5,5.5,4.5, 4,5,4.5,5,8,5.5,4.5,4,3,3.5, 5.5,5,5.5,4.5,4,5.5,7,5.5,4.5,4, 5,4.5,5,5.5,4,4.5,5,4,4.5,5, 4,5,4,4.5],
 [3,5,4.5,4,4.5,4,4.5,4,4,4.5, 4.5,4,4.5,4.5,4,4.5,4,4.5,5,4.5, 5,4.5,5,4,5.5,5,4.5,5,4.5,3, 6,6.5,5.5,5,5,5.5,5.5,5,4.5,5, 4.5,4,4.5,4.5,4,4.5,4,4.5,4,4.5, 4,4,4.5,4],
 [4.5,4.5,5,5,5,5,5,5.5,5.5,5, 5.5,5,6,5,5,5.5,5,5,5,5.5, 5,5,5,6,6,6,5.5,6,4,4.5, 5,4.5,4.5,5.5,5,5.5,6,5.5,5.5,5, 5,5.5,5,4.5,5,5,4.5,5,5,5, 4.5,5,4.5,4.5],
 [7,7,7,7,6.5,7,7.5,7,7,7.5, 7,7,7.5,7.5,7.5,7,7.5,7.5,8,7.5, 7.5,8,8.5,9,9.5,10,9,10,7.5,6.5, 8.5,7.5,7,7.5,7.5,7,7.5,7.5,7,8, 7,7.5,7.5,7,7,7.5,7,7,7,7, 7,7,6.5,6.5],
 [5,5,5,5,5.5,5,5,5.5,5.5,5, 5.5,5.5,5.5,5.5,5.5,5.5,6,5.5,5.5,6, 5.5,6,5.5,9,6.5,6,6,5.5,0,5.5, 5.5,6,5.5,5.5,5.5,5.5,6,5.5,5.5,5.5, 5,5.5,5,5.5,6,5.5,5,5.5,5.5,5, 5.5,5,5.5,5]
];
const bipolarPos = [
 [6,5,6,6,4.5,5,5.5,6,5,4.5, 5,6,6,5.5,6,5.5,6,6,5.5,6.5, 6.5,6,6.5,6.5,6.5,8,7.5,8,5,5, 5,5,10,8,9,7.5,7.5,9,8,7.5, 8,7.5,6.5,6.5,6.5,6,6.5,6,5.5,6, 6.5,6,5.5,5.5],
 [3.5,5.5,7,10,7.5,5.5,5.5,5.5,6,5, 5,5.5,5,6,6.5,7,8,8,7.5,7, 7,8,7,7,7.5,11.5,9.5,10.5,7,7.5, 6.5,7,9,8,12.5,8,8,6.5,7,6, 6,6.5,6.5,6,5.5,9,8,6,5,6, 8,7.5,5.5,6],
 [6,6.5,5.5,6,6,5.5,6,6,5.5,6.5, 6,8,6.5,6,5.5,6.5,7,7.5,8.5,6.5, 6.5,7,6.5,7,8.5,10,11,8.5,6.5,7, 7.5,7.5,10,12.5,9,7,6.5,7,6.5,6, 6,6,6,6,6.5,6,5.5,7,6.5,6, 6.5,6,7,5],
 [5,6,5.5,5,5.5,5.5,5.5,6,6,5, 6,6,5.5,6,6,6,6,5.5,6,6, 5.5,6,6,6,6,10.5,8,6.5,5,6, 4.5,5.5,9,9.5,9.5,6.5,6,5.5,6,5.5, 6,6,5.5,6,6,5.5,6,5.5,6,5.5, 5.5,5.5,5,6],
 [6,5.5,6,5,6.5,5.5,5.5,5.5,6.5,5.5, 5.5,6,6.5,7,6.5,6.5,6.5,6.5,6.5,5.5, 6.5,6,5,5,7.5,10.5,7.5,11,6,5, 6,5,10.5,9.5,11.5,6.5,6,6.5,6,6.5, 6,7,6,6.5,6.5,6,6,5.5,5.5,7, 6.5,6.5,6,7],
 [5.5,6,6,5.5,6,5.5,5,6,7,6, 6,6,5.5,6,6.5,6.5,6.5,7,6,6.5, 6.5,6.5,6.5,6.5,7.5,10.5,8.5,11.5,0,6, 5.5,4.5,11,11,11,7.5,6.5,7,7,7, 7,6.5,7,6,6.5,6,6,6,5.5,5, 5.5,7.5,6.5,6]
];
const bipolarNeg = [
 [6,5.5,6,5.5,5.5,5.5,6,5.5,6,6, 6.5,6,6,6,6.5,6,6.5,6,6.5,6.5, 6,6.5,6.5,7,6.5,7.5,6,7,5.5,6, 8,8,7.5,7,7.5,7,6.5,7,6.5,6.5, 7,6.5,6,6.5,6,6,6,5.5,6,6, 5.5,5.5,6,5.5],
 [6,6.5,6.5,6,6.5,7,6.5,7.5,7.5,6.5, 6.5,7,8,6.5,6,7.5,6.5,8,7,7, 8,6,6.5,8,8,9,8,7.5,6,6.5, 8.5,7,9,6.5,8,6.5,7,7.5,7.5,7, 6.5,8,8,7,6.5,7,7.5,6.5,7,7, 6.5,6.5,7,7],
 [6.5,6,6,6.5,6,6.5,6,6.5,6,6.5, 6,6,6.5,6,6,7,6.5,7.5,8.5,7, 7,6.5,6.5,8,7,7.5,9,7,6,5.5, 8.5,9,8,8,7.5,8,8.5,8,7,7.5, 7,7.5,7,8,8.5,7,7,7.5,7,7, 7.5,7,7,8],
 [6,6.5,6,6,6.5,6,6.5,6,6.5,6, 6,6,6.5,6,6,6,6,6.5,6.5,6, 6,6.5,6.5,7,7,7,7.5,7,6,6.5, 7,6.5,6,6,6.5,6.5,6,6.5,6,6.5, 6,6,6,6,6,6.5,6,6,6,6, 6,6,6,6],
 [7,6.5,7,6.5,6.5,7,7,7.5,7,7, 7,7,7,7,7,7.5,7,7.5,8,8, 8,9,9.5,9.5,10,10,9.5,8,7,7.5, 9.5,8.5,9,7,8,8,7.5,7.5,7,7, 7.5,7.5,7,7.5,7.5,7,7.5,7.5,7,7, 7,7,7,7],
 [6,6,6,6,6.5,6,6,6.5,6,6.5, 6.5,6.5,6,6.5,6.5,6,6.5,6,6.5,6.5, 6.5,6,6.5,10.5,7,6.5,6,5.5,0,6, 6.5,7,6.5,6.5,7,6.5,6.5,6,6,6, 6.5,6,6.5,7,6.5,6,6,6,6,6.5, 6,6,6,6]
];

const mullerPositions = [-30,-29,-28,-27,-26,-25,-24,-23,-22,-21,-20,-19,-18,-17,-16,-15,-14,-13,-12,-11,
                         -10,-9,-8,-7,-6,-5,-4,-3,-2,-1,11,12,13,14,15,16,17,18,19,20,21,22,23,24,25,26,27,28,29,30];
const mullerOverlapPositions = [11, 12];
const mullerPos = [
 [0,0,0,0,0,0,0,6.8,0,0, 0,13.6,0,0,0,20.4,0,0,6.8,6.8, 0,6.8,0,0,6.8,0,6.8,0,6.8,6.8, 6.8,0,13.6,6.8,6.8,0,6.8,0,13.6,0, 0,6.8,0,6.8,0,0,0,0,0,6.8],
 [2.5,2.5,3.5,3.5,3.5,3,3,3,2.5,2, 3.5,3.5,4,3,3.5,3.5,3,3.5,4,4.5, 3.5,3.5,4,3,3,5,4.5,3.5,2,5, 6,1.5,7,2.5,4,2,3,1.5,4.5,3.5, 2.5,5.5,4.5,3,4.5,3.5,2.5,3.5,2.5,2.5],
 [2,3,3,2.5,2.5,2.5,3,4,3,2.5, 2.5,3,3,3,3,3,3,3,2.5,3, 3,3,3,3,3.5,3,3.5,3,3.5,4, 3.5,3,3,2.5,3.5,3,2.5,3,3,2.5, 3,3,3,3,3,3,3,3,2.5,3],
 [1.5,1.5,1.5,1.5,2,2,2,1.5,2,2, 1.5,2,2,2,2,2,2,2,2.5,2, 2,2,2,2,1.5,2,2,1.5,2.5,3, 2.5,2,3,3,2.5,2.5,2.5,2.5,2.5,2, 2.5,2.5,2,2.5,3,2.5,2.5,2.5,2.5,2],
 [1.5,1.5,1.5,1.5,1.5,1.5,1.5,2,1.5,1.5, 2,2,1.5,2,2,2,2,2,1.5,2, 2,1.5,1.5,1.5,2,2,2,3.5,3.5,2, 3,2.5,2.5,2,2,2,2,2,2,2, 2,2.5,2.5,2.5,2,2,2,2,1.5,1.5],
 [1.5,1.5,1.5,1.5,1.5,1.5,1.5,1.5,1.5,1.5, 2,1.5,2,1.5,2,2,2,2,2,2, 1.5,1.5,1.5,1.5,1.5,2,2,2.5,1.5,2.5, 3.5,2.5,2,2,2,2,2,2,2,2, 2,2,2,2,2,1.5,2,2,2,2]
];
const mullerNeg = [
 [6.8,0,13.6,6.8,0,0,0,6.8,6.8,6.8, 6.8,0,0,0,6.8,0,0,6.8,6.8,0, 0,0,6.8,0,6.8,0,6.8,6.8,0,0, 20.4,34,0,0,6.8,0,0,0,13.6,0, 0,0,0,6.8,0,13.6,6.8,6.8,6.8,0],
 [2,3,4,4,4,4.5,5,4,3.5,3, 2,2,3,3.5,4.5,2.5,3,3.5,3.5,4, 3,3.5,2,3,4,4.5,3,2.5,1.5,1.5, 18,5.5,4,3,3,2.5,2,2.5,2,3, 2.5,2,3.5,2.5,3,3,2.5,2.5,2,2.5],
 [2,2,2,2,2.5,2,2.5,2,2,2.5, 2,2,2.5,2,2,2,2.5,2,2,2.5, 2,2,2.5,2.5,2.5,2.5,2,2.5,2,2, 10,6,2,2.5,2,2,2,2,2,2, 2,2,2,2,2,2,2,2,2,2],
 [2,2,2,2,2,2,2,2,2,2.5, 2,2,2.5,2.5,2,2,2,2.5,2,2, 2.5,2,2,2,2.5,2.5,2.5,2,2,2, 10,5.5,2,2.5,2,2,2,2,2,2.5, 2,2,2,2,2,2,2,2,2,2],
 [1.5,1.5,1.5,1.5,1.5,1.5,1.5,1.5,1.5,2, 1.5,1.5,1.5,1.5,1.5,1.5,1.5,1.5,1.5,1.5, 1.5,1.5,1.5,1.5,2,2,2,2,1.5,1.5, 8.5,5,1.5,1.5,1.5,1.5,1.5,1.5,1.5,1.5, 1.5,1.5,1.5,1.5,1.5,1.5,1.5,1.5,1.5,1.5],
 [1.5,1.5,1.5,1.5,1.5,1.5,1.5,1.5,1.5,1.5, 1.5,1.5,1.5,1.5,1.5,1.5,1.5,1.5,1.5,1.5, 1.5,1.5,1.5,1.5,1.5,1.5,1.5,1.5,1.5,1.5, 8.5,3.5,1.5,1.5,1.5,1.5,1.5,1.5,1.5,1.5, 1.5,1.5,1.5,1.5,1.5,1.5,1.5,1.5,1.5,1.5]
];

const photoreceptorYTicks = ["10", "0", "-10"];
const bipolarYTicks = ["15", "10", "5", "0", "-5", "-10"];
const mullerYTicks = ["20", "0", "-20", "-40"];
const gridXTicks = [-40, -20, 0, 20, 40];
const pooledXTicks = [-20, 0, 20];

// ================= drawing =================
const FONT = '"Liberation Sans", Arial, Helvetica, sans-serif';
Chart.defaults.font.family = FONT;
Chart.defaults.animation = false;

const BLUE = '#0000ff', GREEN = '#66cd00', GREY = '#585858';
const TICK_TEXT = '#4d4d4d', TICK_LINE = '#333333';

// dashed reference lines under the bars and the panel frame on top
const guides = {
  id: 'guides',
  beforeDatasetsDraw(chart, args, o) {
    const { ctx, chartArea: a, scales: { x, y } } = chart;
    ctx.save();
    ctx.beginPath(); ctx.rect(a.left, a.top, a.width, a.height); ctx.clip();
    ctx.strokeStyle = o.color; ctx.lineWidth = o.width; ctx.setLineDash(o.dash);
    const y0 = y.getPixelForValue(0);
    ctx.beginPath(); ctx.moveTo(a.left, y0); ctx.lineTo(a.right, y0); ctx.stroke();
    for (const v of o.xs) {
      const px = x.getPixelForValue(v);
      ctx.beginPath(); ctx.moveTo(px, a.top); ctx.lineTo(px, a.bottom); ctx.stroke();
    }
    ctx.restore();
  },
  afterDraw(chart, args, o) {
    const { ctx, chartArea: a } = chart;
    ctx.save();
    ctx.strokeStyle = o.frame; ctx.lineWidth = o.frameWidth; ctx.setLineDash([]);
    ctx.strokeRect(a.left, a.top, a.width, a.height);
    ctx.restore();
  }
};

function label(text, x, y, size, rotate, color) {
  const d = document.createElement('div');
  d.className = 't' + (rotate ? ' rot' : '');
  d.textContent = text;
  d.style.left = x + 'px';
  d.style.top = y + 'px';
  d.style.fontSize = size + 'px';
  if (color) d.style.color = color;
  document.body.appendChild(d);
}

// digits: upstream block ends at -1, downstream block ends at +40
function decodeRow(str, unit) {
  if (!str) return [];
  const parts = str.split('|').map(s => s.replace(/\s+/g, ''));
  const l = parts[0], r = parts[1] || '';
  const bars = [];
  for (let i = 0; i < l.length; i++) bars.push([i - l.length, parseInt(l[i], 36) * unit]);
  for (let i = 0; i < r.length; i++) bars.push([41 - r.length + i, parseInt(r[i], 36) * unit]);
  return bars;
}

function zip(positions, values) {
  return positions.map((x, i) => [x, values[i]]);
}

function panel(p) {
  const m = 4;
  const axL = p.showY ? p.axisW : 0, axB = p.showX ? p.axisH : 0;
  const cLeft = Math.floor(p.x - axL - m), cTop = Math.floor(p.y - m);
  const cRight = Math.ceil(p.x + p.w + m), cBottom = Math.ceil(p.y + p.h + axB + m);
  const cw = cRight - cLeft, ch = cBottom - cTop;
  const padL = p.x - axL - cLeft, padT = p.y - cTop;
  const padR = cRight - (p.x + p.w), padB = cBottom - (p.y + p.h + axB);

  const cv = document.createElement('canvas');
  cv.width = cw; cv.height = ch;
  cv.style.left = cLeft + 'px'; cv.style.top = cTop + 'px';
  cv.style.width = cw + 'px'; cv.style.height = ch + 'px';
  document.body.appendChild(cv);

  const unitPx = p.w / (p.xRange[1] - p.xRange[0]);
  const thick = unitPx * p.barFrac;
  const posPts = [], posCol = [], negPts = [], negCol = [];
  p.pos.forEach(([x, v]) => {
    if (v > 0) { posPts.push({ x, y: v }); posCol.push(p.greyPos && p.greyPos.includes(x) ? GREY : BLUE); }
  });
  p.neg.forEach(([x, v]) => {
    if (v > 0) { negPts.push({ x, y: -v }); negCol.push(p.greyNeg && p.greyNeg.includes(x) ? GREY : GREEN); }
  });
  const yVals = p.yTicks.map(Number);

  new Chart(cv, {
    type: 'bar',
    data: {
      datasets: [
        { data: posPts, backgroundColor: posCol, borderWidth: 0, barThickness: thick, grouped: false, inflateAmount: p.inflate },
        { data: negPts, backgroundColor: negCol, borderWidth: 0, barThickness: thick, grouped: false, inflateAmount: p.inflate }
      ]
    },
    options: {
      responsive: false, animation: false, events: [],
      layout: { padding: { left: padL, top: padT, right: padR, bottom: padB } },
      plugins: {
        legend: { display: false }, tooltip: { enabled: false },
        guides: { xs: p.vlines, dash: p.dash, color: p.lineColor, width: p.lineW, frame: '#3d3d3d', frameWidth: p.frameW }
      },
      scales: {
        x: {
          type: 'linear', min: p.xRange[0], max: p.xRange[1], offset: false, display: p.showX,
          grid: { display: true, offset: false, drawOnChartArea: false, drawTicks: true, tickLength: 3, tickColor: TICK_LINE },
          border: { display: false },
          ticks: { autoSkip: false, minRotation: 45, maxRotation: 45, padding: 1, color: TICK_TEXT,
                   font: { size: p.xFont }, callback: v => String(v) },
          afterBuildTicks: s => { s.ticks = p.xTicks.map(v => ({ value: v })); },
          afterFit: s => { s.height = axB; s.paddingLeft = 0; s.paddingRight = 0; }
        },
        y: {
          type: 'linear', min: p.yRange[0], max: p.yRange[1], display: p.showY,
          grid: { display: true, drawOnChartArea: false, drawTicks: true, tickLength: 3, tickColor: TICK_LINE },
          border: { display: false },
          ticks: { autoSkip: false, padding: 1, color: TICK_TEXT, font: { size: p.yFont },
                   callback: v => { const k = yVals.indexOf(v); return k >= 0 ? p.yTicks[k] : ''; } },
          afterBuildTicks: s => { s.ticks = yVals.map(v => ({ value: v })); },
          afterFit: s => { s.width = axL; s.paddingTop = 0; s.paddingBottom = 0; }
        }
      }
    },
    plugins: [guides]
  });
}

function buildGrid(g) {
  const nRows = g.rowsA.length;
  for (let r = 0; r < nRows; r++) {
    const top = g.top + r * g.rowStep;
    for (let c = 0; c < species.length; c++) {
      panel({
        x: g.left + c * g.colStep, y: top, w: g.w, h: g.h,
        xRange: [-42.5, 42.5], yRange: g.yRange[r], yTicks: g.yTicks[r], xTicks: gridXTicks,
        showY: c === 0, showX: r === nRows - 1, axisW: 28, axisH: 24, yFont: 7, xFont: 8,
        pos: decodeRow(g.pos[r][c], g.unit[r]), neg: decodeRow(g.neg[r][c], g.unit[r]),
        vlines: [0, g.motif[r]], barFrac: 0.95, inflate: 0.2,
        dash: [2.5, 2.5], lineColor: '#7f7f7f', lineW: 0.8, frameW: 1
      });
    }
    label(g.rowsA[r], g.labA, top + g.h / 2, 10);
    label(g.rowsB[r], g.labB, top + g.h / 2, 10);
  }
  species.forEach((s, c) => label(s, g.left + c * g.colStep + g.w / 2, g.stripY, 13));
  label('distance to 5\u2019 nucleotide of the primary motif', g.xTitle[0], g.xTitle[1], 9, false, '#000');
  label('instances per 1000 peaks', g.yTitle[0], g.yTitle[1], 10, true, '#000');
}

buildGrid({
  rowsA: tlRowsA, rowsB: tlRowsB, motif: tlMotifEnd, yRange: tlYRange, yTicks: tlYTicks,
  unit: tlUnit, pos: tlPos, neg: tlNeg,
  left: 44, colStep: 99.1, w: 91, top: 29, rowStep: 41.47, h: 33.3,
  labA: 651, labB: 693, stripY: 16, xTitle: [337, 716], yTitle: [16, 357]
});
buildGrid({
  rowsA: trRowsA, rowsB: trRowsB, motif: trMotifEnd, yRange: trYRange, yTicks: trYTicks,
  unit: trUnit, pos: trPos, neg: trNeg,
  left: 764, colStep: 98.14, w: 89.7, top: 29.3, rowStep: 44.24, h: 35,
  labA: 1367.5, labB: 1412.5, stripY: 17, xTitle: [1054, 716], yTitle: [735, 357]
});

// pooled photoreceptor / bipolar rows
const midTops = [801.5, 873], midHeights = [63, 64];
const midYRanges = [[-15.7, 20.3], [-16.4, 16.4]];
const midYTicks = [photoreceptorYTicks, bipolarYTicks];
const midPos = [photoreceptorPos, bipolarPos], midNeg = [photoreceptorNeg, bipolarNeg];
for (let r = 0; r < 2; r++) {
  for (let c = 0; c < species.length; c++) {
    panel({
      x: 55.5 + c * 215.7, y: midTops[r], w: 207, h: midHeights[r],
      xRange: [-32.8, 32.9], yRange: midYRanges[r], yTicks: midYTicks[r], xTicks: pooledXTicks,
      showY: c === 0, showX: r === 1, axisW: 40, axisH: 30, yFont: 11.5, xFont: 9.5,
      pos: zip(midPositions, midPos[r][c]), neg: zip(midPositions, midNeg[r][c]),
      greyPos: midOverlapPositions, vlines: [0, 6], barFrac: 0.62, inflate: 0,
      dash: [4, 3], lineColor: '#9a9a9a', lineW: 0.8, frameW: 1
    });
  }
  label(midRows[r], 1389, midTops[r] + midHeights[r] / 2, 12);
}
species.forEach((s, c) => label(s, 55.5 + c * 215.7 + 103.5, 788, 13));
label('distance to 5\u2019 nucleotide of the primary motif', 698, 970, 14.5, false, '#000');
label('instances per 1000 peaks', 17, 869, 15, true, '#000');

// pooled Mueller glia row
for (let c = 0; c < species.length; c++) {
  panel({
    x: 55.5 + c * 219.4, y: 1044, w: 211, h: 135,
    xRange: [-32.7, 33.2], yRange: [-43.5, 30], yTicks: mullerYTicks, xTicks: pooledXTicks,
    showY: c === 0, showX: true, axisW: 40, axisH: 30, yFont: 11.5, xFont: 9.5,
    pos: zip(mullerPositions, mullerPos[c]), neg: zip(mullerPositions, mullerNeg[c]),
    greyNeg: mullerOverlapPositions, vlines: [0, 10], barFrac: 0.6, inflate: 0,
    dash: [4, 3], lineColor: '#9a9a9a', lineW: 0.8, frameW: 1
  });
}
species.forEach((s, c) => label(s, 55.5 + c * 219.4 + 105.5, 1031, 13));
label('M\u00fcller glia', 1399, 1112, 12);
label('distance to 5\u2019 nucleotide of the primary motif', 709, 1213, 14.5, false, '#000');
label('instances per 1000 peaks', 17, 1111, 15, true, '#000');
</script>
</body>
</html>
